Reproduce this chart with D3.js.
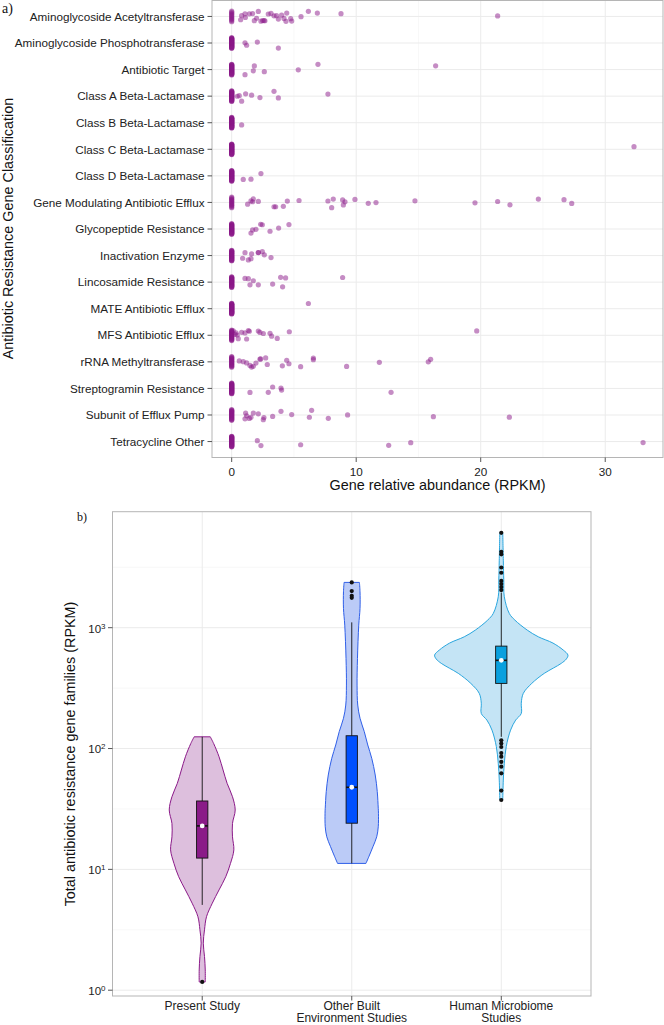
<!DOCTYPE html>
<html><head><meta charset="utf-8">
<script src="https://cdn.jsdelivr.net/npm/d3@7"></script>
<style>
body{margin:0;background:#fff}
text{font-family:"Liberation Sans",Arial,Helvetica,sans-serif}
</style>
</head><body>
<svg id="chart" width="664" height="1025"></svg>
<script>
// ---------- Panel a data ----------
const categories = [
  "Aminoglycoside Acetyltransferase","Aminoglycoside Phosphotransferase","Antibiotic Target",
  "Class A Beta-Lactamase","Class B Beta-Lactamase","Class C Beta-Lactamase","Class D Beta-Lactamase",
  "Gene Modulating Antibiotic Efflux","Glycopeptide Resistance","Inactivation Enzyme",
  "Lincosamide Resistance","MATE Antibiotic Efflux","MFS Antibiotic Efflux","rRNA Methyltransferase",
  "Streptogramin Resistance","Subunit of Efflux Pump","Tetracycline Other"
];
const abundance = [
  [0.80,0.72,1.07,1.1,1.42,1.68,1.82,2.0,2.14,2.35,2.49,2.6,2.67,2.94,3.16,3.40,3.6,3.75,4.01,4.20,4.36,4.42,4.74,4.82,5.57,6.16,6.88,8.78,21.36],
  [1.07,1.20,2.06,3.75],
  [1.07,1.74,1.82,2.62,5.35,6.93,16.38],
  [0.45,0.61,0.80,1.12,1.60,2.27,3.40,3.75,7.73],
  [0.80],
  [32.31],
  [0.93,1.55,2.35],
  [1.28,1.55,1.68,1.74,2.14,3.40,3.53,4.15,4.47,5.41,7.73,8.03,8.16,8.91,8.97,9.10,9.90,10.97,11.59,14.72,19.54,21.36,22.35,24.63,26.69,27.31],
  [1.55,1.68,1.95,2.33,2.46,3.08,3.77,4.60],
  [0.88,1.07,1.34,1.55,1.60,2.14,2.14,2.46,2.62,3.16],
  [1.07,1.34,1.47,1.74,2.14,3.29,3.93,4.09,4.33,8.91],
  [6.16],
  [0.13,0.27,0.35,0.45,0.53,0.80,1.07,1.20,1.34,1.42,2.14,2.27,2.54,3.08,3.21,3.66,4.63,19.68],
  [0.61,0.93,1.20,1.47,1.60,1.74,1.95,2.27,2.33,2.73,2.86,4.07,4.42,4.60,5.54,6.56,6.56,9.23,11.86,15.79,15.98],
  [1.47,2.94,3.29,3.96,4.01,12.80],
  [1.07,1.12,1.20,1.42,1.55,1.74,2.14,2.54,2.59,3.29,3.96,4.82,6.24,6.42,7.76,9.31,16.20,22.30],
  [2.06,2.35,5.54,12.61,14.38,33.04]
];
const samplesPerCategory = 40;
const xTicksA = [0,10,20,30];
const xMinorA = [5,15,25];

// ---------- Panel b data ----------
const studies = ["Present Study","Other Built Environment Studies","Human Microbiome Studies"];
const studyLabels = [["Present Study"],["Other Built","Environment Studies"],["Human Microbiome","Studies"]];
// violin outline: [RPKM value, relative density]
const violinPresent = [[125,0.12],[110,0.17],[85.5,0.25],[66.4,0.31],[51.5,0.37],[39.9,0.45],[31.0,0.49],[24.0,0.45],[18.6,0.45],[14.5,0.47],[11.2,0.42],[8.7,0.35],[6.76,0.25],[5.25,0.15],[4.06,0.064],[3.16,0.034],[2.45,0.016],[1.90,0.034],[1.47,0.045],[1.17,0.045]];
const violinBuilt = [[2371,0.114],[1982,0.123],[1445,0.123],[1050,0.104],[557,0.085],[335,0.079],[229,0.089],[178,0.123],[138,0.186],[107,0.238],[83,0.297],[60.4,0.349],[44,0.379],[32,0.394],[29.1,0.397],[22.5,0.394],[18.6,0.371],[15.4,0.315],[12.7,0.253],[11.2,0.211]];
const violinHuman = [[6095,0.022],[3622,0.03],[2477,0.037],[1803,0.045],[1312,0.119],[1156,0.202],[955,0.386],[841,0.55],[746,0.768],[653,0.921],[593,0.991],[550,0.966],[507,0.892],[463,0.773],[419,0.639],[346,0.453],[286,0.327],[237,0.297],[195,0.297],[172,0.214],[142,0.138],[104,0.074],[75.5,0.045],[54.8,0.03],[37.5,0.022]];
const violins = [violinPresent, violinBuilt, violinHuman];
const boxLow    = [5.08, 11.2, 125];
const boxQ1     = [12.4, 24.1, 346];
const boxMedian = [22.9, 47.8, 537];
const boxQ3     = [36.8, 127.6, 704];
const boxHigh   = [125, 1107, 1950];
const outliers = [
  [1.17],
  [2371,2009,1836,1767],
  [6100,4250,4050,3150,2850,2440,2300,2170,2050,117,110,103,91.7,85.6,77.6,70.8,62.4,44.9,37.5]
];
const yTicksB = [1,10,100,1000];
const yTickExp = ["0","1","2","3"];
const yMinorB = [Math.pow(10,0.5),Math.pow(10,1.5),Math.pow(10,2.5),Math.pow(10,3.5)];

const violinFill   = ["#DDBFDD","#BBCBF7","#C4E4F5"];
const violinStroke = ["#8B1A89","#2F5FE8","#2AA6DE"];
const boxFill      = ["#8A1C88","#0050FF","#0AA0DE"];

const svg = d3.select("#chart");

// ================= Panel a =================
const xA = d3.scaleLinear().domain([-1.58, 34.64]).range([212, 663]);
const yA = d3.scalePoint().domain(categories).range([0.5, 457.5]).padding(0.6);
const gA = svg.append("g");

gA.selectAll(".minx").data(xMinorA).join("line")
  .attr("x1",d=>xA(d)).attr("x2",d=>xA(d)).attr("y1",0.5).attr("y2",457.5)
  .attr("stroke","#F4F4F4").attr("stroke-width",0.6);
gA.selectAll(".majx").data(xTicksA).join("line")
  .attr("x1",d=>xA(d)).attr("x2",d=>xA(d)).attr("y1",0.5).attr("y2",457.5)
  .attr("stroke","#EBEBEB").attr("stroke-width",1);
gA.selectAll(".majy").data(categories).join("line")
  .attr("x1",212).attr("x2",663).attr("y1",d=>yA(d)).attr("y2",d=>yA(d))
  .attr("stroke","#EBEBEB").attr("stroke-width",1);

const rng = d3.randomUniform.source(d3.randomLcg(0.4217))(-1,1);
const jitterH = 5.3;
const pts = [];
categories.forEach((c,ci)=>{
  const vals = abundance[ci];
  const nz = samplesPerCategory - vals.length;
  for(let i=0;i<nz;i++) pts.push({v:0, c, dy: -jitterH + 2*jitterH*i/(nz-1)});
  vals.forEach(v=>pts.push({v, c, dy: rng()*jitterH}));
});
gA.selectAll(".pt").data(pts).join("circle")
  .attr("cx",d=>xA(d.v)).attr("cy",d=>yA(d.c)+d.dy).attr("r",2.6)
  .attr("fill","#8B1A89").attr("fill-opacity",0.5);

gA.append("rect").attr("x",212).attr("y",0.5).attr("width",451).attr("height",457)
  .attr("fill","none").attr("stroke","#B5B5B5").attr("stroke-width",1);

// y axis a
gA.selectAll(".yt").data(categories).join("line")
  .attr("x1",207.5).attr("x2",212).attr("y1",d=>yA(d)).attr("y2",d=>yA(d))
  .attr("stroke","#555").attr("stroke-width",1);
gA.selectAll(".yl").data(categories).join("text")
  .attr("x",204.5).attr("y",d=>yA(d)).attr("dy","0.36em").attr("text-anchor","end")
  .attr("font-size",11.7).attr("fill","#222").text(d=>d);
// x axis a
gA.selectAll(".xt").data(xTicksA).join("line")
  .attr("x1",d=>xA(d)).attr("x2",d=>xA(d)).attr("y1",457.5).attr("y2",462)
  .attr("stroke","#555").attr("stroke-width",1);
gA.selectAll(".xl").data(xTicksA).join("text")
  .attr("x",d=>xA(d)).attr("y",475.5).attr("text-anchor","middle")
  .attr("font-size",11.7).attr("fill","#222").text(d=>d);
gA.append("text").attr("x",437.5).attr("y",489.5).attr("text-anchor","middle")
  .attr("font-size",14.4).attr("fill","#111").text("Gene relative abundance (RPKM)");
gA.append("text").attr("transform","translate(12.5,228.5) rotate(-90)").attr("text-anchor","middle")
  .attr("font-size",14.4).attr("fill","#111").text("Antibiotic Resistance Gene Classification");
svg.append("text").attr("x",2).attr("y",13)
  .style("font-family","'Liberation Serif','Times New Roman',serif")
  .attr("font-size",14).attr("fill","#111").text("a)");

// ================= Panel b =================
const xB = d3.scalePoint().domain(studies).range([112.5, 591]).padding(0.6);
const yB = d3.scaleLog().domain([Math.pow(10,-0.048), Math.pow(10,3.96)]).range([996, 511.7]);
const wB = d3.scaleLinear().domain([0,1]).range([0, 0.45*xB.step()]);
const gB = svg.append("g");

gB.selectAll(".bminy").data(yMinorB).join("line")
  .attr("x1",112.5).attr("x2",591).attr("y1",d=>yB(d)).attr("y2",d=>yB(d))
  .attr("stroke","#F4F4F4").attr("stroke-width",0.6);
gB.selectAll(".bmajy").data(yTicksB).join("line")
  .attr("x1",112.5).attr("x2",591).attr("y1",d=>yB(d)).attr("y2",d=>yB(d))
  .attr("stroke","#EBEBEB").attr("stroke-width",1);
gB.selectAll(".bmajx").data(studies).join("line")
  .attr("x1",d=>xB(d)).attr("x2",d=>xB(d)).attr("y1",511.7).attr("y2",996)
  .attr("stroke","#EBEBEB").attr("stroke-width",1);

studies.forEach((s,i)=>{
  const cx = xB(s);
  const area = d3.area()
    .y(d=>yB(d[0]))
    .x0(d=>cx - wB(d[1]))
    .x1(d=>cx + wB(d[1]))
    .curve(d3.curveCatmullRom.alpha(0.5));
  gB.append("path").datum(violins[i]).attr("d",area)
    .attr("fill",violinFill[i]).attr("stroke",violinStroke[i]).attr("stroke-width",1);
  const bw = 11.3;
  gB.append("line").attr("x1",cx).attr("x2",cx).attr("y1",yB(boxHigh[i])).attr("y2",yB(boxLow[i]))
    .attr("stroke","#111").attr("stroke-width",0.9);
  gB.append("rect").attr("x",cx-bw/2).attr("width",bw)
    .attr("y",yB(boxQ3[i])).attr("height",yB(boxQ1[i])-yB(boxQ3[i]))
    .attr("fill",boxFill[i]).attr("stroke","#111").attr("stroke-width",0.9);
  gB.append("line").attr("x1",cx-bw/2).attr("x2",cx+bw/2).attr("y1",yB(boxMedian[i])).attr("y2",yB(boxMedian[i]))
    .attr("stroke","#111").attr("stroke-width",1.6);
  gB.selectAll(".out"+i).data(outliers[i]).join("circle")
    .attr("cx",cx).attr("cy",d=>yB(d)).attr("r",2.1).attr("fill","#111");
  gB.append("circle").attr("cx",cx).attr("cy",yB(boxMedian[i])).attr("r",2.4).attr("fill","#fff");
});

gB.append("rect").attr("x",112.5).attr("y",511.7).attr("width",478.5).attr("height",484.3)
  .attr("fill","none").attr("stroke","#B5B5B5").attr("stroke-width",1);

// y axis b
gB.selectAll(".byt").data(yTicksB).join("line")
  .attr("x1",108).attr("x2",112.5).attr("y1",d=>yB(d)).attr("y2",d=>yB(d))
  .attr("stroke","#555").attr("stroke-width",1);
const ylab = gB.selectAll(".byl").data(yTicksB).join("text")
  .attr("x",105.5).attr("y",d=>yB(d)).attr("dy","0.42em").attr("text-anchor","end")
  .attr("font-size",11.5).attr("fill","#222");
ylab.append("tspan").text("10");
ylab.append("tspan").attr("dy","-0.5em").attr("font-size",8).text((d,i)=>yTickExp[i]);
// x axis b
gB.selectAll(".bxt").data(studies).join("line")
  .attr("x1",d=>xB(d)).attr("x2",d=>xB(d)).attr("y1",996).attr("y2",1000.5)
  .attr("stroke","#555").attr("stroke-width",1);
studies.forEach((s,i)=>{
  const t = gB.append("text").attr("x",xB(s)).attr("y",1010).attr("text-anchor","middle")
    .attr("font-size",12).attr("fill","#222");
  studyLabels[i].forEach((line,k)=>{
    t.append("tspan").attr("x",xB(s)).attr("dy",k===0?0:12).text(line);
  });
});
gB.append("text").attr("transform","translate(75,754) rotate(-90)").attr("text-anchor","middle")
  .attr("font-size",14.4).attr("fill","#111").text("Total antibiotic resistance gene families (RPKM)");
svg.append("text").attr("x",77).attr("y",521)
  .style("font-family","'Liberation Serif','Times New Roman',serif")
  .attr("font-size",12).attr("fill","#111").text("b)");
</script>
</body></html>
